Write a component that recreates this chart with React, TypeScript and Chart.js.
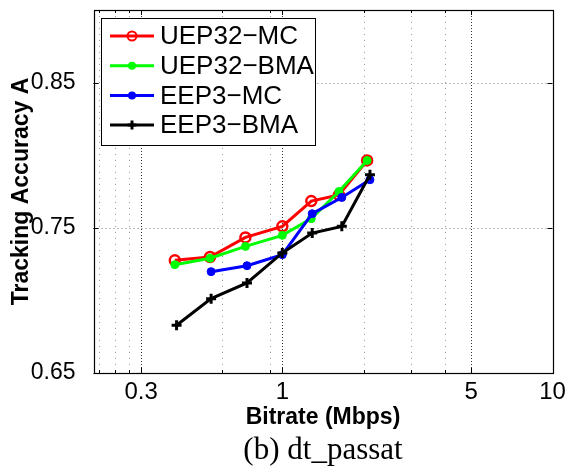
import { useEffect, useRef } from "react";
import { Chart, registerables } from "chart.js";

Chart.register(...registerables);

const seriesNames = ["UEP32\u2212MC", "UEP32\u2212BMA", "EEP3\u2212MC", "EEP3\u2212BMA"];
const seriesColors = ["#ff0000", "#00ff00", "#0000ff", "#000000"];
const uepBitrates = [0.4, 0.54, 0.73, 1.0, 1.28, 1.62, 2.06];
const eepMcBitrates = [0.545, 0.74, 1.0, 1.29, 1.66, 2.11];
const eepBmaBitrates = [0.406, 0.545, 0.74, 1.0, 1.29, 1.66, 2.11];
const uepMc = [0.7276, 0.7299, 0.7434, 0.751, 0.7684, 0.7726, 0.7964];
const uepBma = [0.7246, 0.729, 0.7372, 0.7448, 0.7563, 0.775, 0.7964];
const eepMc = [0.7198, 0.7239, 0.7315, 0.7597, 0.7709, 0.7831];
const eepBma = [0.6829, 0.7012, 0.712, 0.7327, 0.7464, 0.751, 0.7865];
const xTickValues = [0.3, 1, 5, 10];
const xMinorGrid = [0.21, 0.24, 0.27, 0.6, 0.9, 2, 3, 4];
const yTickValues = [0.65, 0.75, 0.85];

const SANS = "'Liberation Sans', Arial, Helvetica, sans-serif";
const SERIF = "'Liberation Serif', 'Times New Roman', serif";

const toPoints = (xs: number[], ys: number[]) => xs.map((x, i) => ({ x, y: ys[i] }));

const gridPlugin = {
  id: "matlabGrid",
  beforeDatasetsDraw(chart: any) {
    const { ctx, chartArea, scales } = chart;
    const { left, right, top, bottom } = chartArea;
    const x = scales.x;
    const y = scales.y;
    ctx.save();
    ctx.lineWidth = 1;
    ctx.strokeStyle = "#9a9a9a";
    ctx.setLineDash([1, 5]);
    xMinorGrid.forEach((v) => {
      const px = Math.round(x.getPixelForValue(v)) + 0.5;
      ctx.beginPath();
      ctx.moveTo(px, top);
      ctx.lineTo(px, bottom);
      ctx.stroke();
    });
    ctx.strokeStyle = "#333333";
    ctx.setLineDash([1, 2]);
    xTickValues.forEach((v) => {
      const px = Math.round(x.getPixelForValue(v)) + 0.5;
      if (px < right - 1) {
        ctx.beginPath();
        ctx.moveTo(px, top);
        ctx.lineTo(px, bottom);
        ctx.stroke();
      }
    });
    ctx.strokeStyle = "#777777";
    ctx.setLineDash([1, 3]);
    yTickValues.forEach((v) => {
      const py = Math.round(y.getPixelForValue(v)) + 0.5;
      if (py < bottom - 1) {
        ctx.beginPath();
        ctx.moveTo(left, py);
        ctx.lineTo(right, py);
        ctx.stroke();
      }
    });
    ctx.restore();
  },
  afterDraw(chart: any) {
    const { ctx, chartArea, scales } = chart;
    const { left, right, top, bottom } = chartArea;
    const x = scales.x;
    const y = scales.y;
    ctx.save();
    ctx.setLineDash([]);
    ctx.strokeStyle = "#000";
    ctx.lineWidth = 1;
    const tick = (px: number, len: number) => {
      ctx.beginPath();
      ctx.moveTo(px, bottom);
      ctx.lineTo(px, bottom - len);
      ctx.moveTo(px, top);
      ctx.lineTo(px, top + len);
      ctx.stroke();
    };
    xMinorGrid.forEach((v) => tick(Math.round(x.getPixelForValue(v)) + 0.5, 3));
    xTickValues.forEach((v) => tick(Math.round(x.getPixelForValue(v)) + 0.5, 5));
    yTickValues.forEach((v) => {
      const py = Math.round(y.getPixelForValue(v)) + 0.5;
      ctx.beginPath();
      ctx.moveTo(left, py);
      ctx.lineTo(left + 5, py);
      ctx.moveTo(right, py);
      ctx.lineTo(right - 5, py);
      ctx.stroke();
    });
    ctx.lineWidth = 1.2;
    ctx.strokeRect(Math.round(left) + 0.5, Math.round(top) + 0.5, Math.round(right - left), Math.round(bottom - top));

    // legend
    const lx = 101, ly = 18, lw = 214, lh = 127;
    ctx.fillStyle = "#fff";
    ctx.fillRect(lx, ly, lw, lh);
    ctx.lineWidth = 1;
    ctx.strokeStyle = "#000";
    ctx.strokeRect(lx + 0.5, ly + 0.5, lw, lh);
    ctx.font = `26px ${SANS}`;
    ctx.textBaseline = "middle";
    ctx.textAlign = "left";
    seriesNames.forEach((name, i) => {
      const ry = 36 + i * 29.7;
      const c = seriesColors[i];
      ctx.strokeStyle = c;
      ctx.lineWidth = 3;
      ctx.beginPath();
      ctx.moveTo(110, ry);
      ctx.lineTo(154, ry);
      ctx.stroke();
      if (i === 0) {
        ctx.lineWidth = 2;
        ctx.beginPath();
        ctx.arc(132, ry, 4.5, 0, Math.PI * 2);
        ctx.stroke();
      } else if (i === 3) {
        ctx.lineWidth = 3;
        ctx.beginPath();
        ctx.moveTo(132, ry - 4.5);
        ctx.lineTo(132, ry + 4.5);
        ctx.moveTo(127.5, ry);
        ctx.lineTo(136.5, ry);
        ctx.stroke();
      } else {
        ctx.fillStyle = c;
        ctx.beginPath();
        ctx.arc(132, ry, 4, 0, Math.PI * 2);
        ctx.fill();
      }
      ctx.fillStyle = "#000";
      ctx.fillText(name, 160, ry + 1);
    });
    ctx.restore();
  },
};

export default function App() {
  const canvasRef = useRef<HTMLCanvasElement | null>(null);

  useEffect(() => {
    document.body.style.margin = "0";
    const canvas = canvasRef.current;
    if (!canvas) return;
    const lineStyle = (i: number) => ({
      borderColor: seriesColors[i],
      borderWidth: 3,
      tension: 0,
      fill: false,
    });
    const chart = new Chart(canvas, {
      type: "line",
      data: {
        datasets: [
          {
            label: seriesNames[0],
            data: toPoints(uepBitrates, uepMc),
            ...lineStyle(0),
            pointStyle: "circle",
            pointRadius: 5,
            pointBorderWidth: 2.5,
            pointBorderColor: seriesColors[0],
            pointBackgroundColor: "rgba(255,0,0,0)",
            order: 4,
          },
          {
            label: seriesNames[1],
            data: toPoints(uepBitrates, uepBma),
            ...lineStyle(1),
            pointStyle: "circle",
            pointRadius: 4,
            pointBorderWidth: 1,
            pointBorderColor: seriesColors[1],
            pointBackgroundColor: seriesColors[1],
            order: 3,
          },
          {
            label: seriesNames[2],
            data: toPoints(eepMcBitrates, eepMc),
            ...lineStyle(2),
            pointStyle: "circle",
            pointRadius: 4,
            pointBorderWidth: 1,
            pointBorderColor: seriesColors[2],
            pointBackgroundColor: seriesColors[2],
            order: 2,
          },
          {
            label: seriesNames[3],
            data: toPoints(eepBmaBitrates, eepBma),
            ...lineStyle(3),
            pointStyle: "cross",
            pointRadius: 5,
            pointBorderWidth: 3,
            pointBorderColor: seriesColors[3],
            pointBackgroundColor: seriesColors[3],
            order: 1,
          },
        ],
      } as any,
      options: {
        animation: false,
        responsive: true,
        maintainAspectRatio: false,
        layout: { padding: { top: 10, right: 15.5, bottom: 0, left: 0 } },
        plugins: {
          legend: { display: false },
          tooltip: { enabled: false },
          title: {
            display: true,
            position: "bottom",
            fullSize: false,
            text: "(b) dt_passat",
            color: "#000",
            font: { family: SERIF, size: 31, weight: "normal" },
            padding: { top: 0, bottom: 0 },
          },
        },
        scales: {
          x: {
            type: "logarithmic",
            min: 0.2,
            max: 10,
            grid: { display: false },
            border: { display: false },
            afterBuildTicks: (s: any) => {
              s.ticks = xTickValues.map((v) => ({ value: v }));
            },
            afterFit: (s: any) => {
              s.height = 58.8;
              s.paddingLeft = 0;
              s.paddingRight = 0;
            },
            ticks: {
              autoSkip: false,
              maxRotation: 0,
              minRotation: 0,
              padding: -3,
              color: "#000",
              font: { family: SANS, size: 24 },
              callback: (v: any) => String(v),
            },
            title: {
              display: true,
              text: "Bitrate (Mbps)",
              color: "#000",
              font: { family: SANS, size: 23, weight: "bold" },
              padding: { top: 0, bottom: 0 },
            },
          },
          y: {
            type: "linear",
            min: 0.65,
            max: 0.9,
            grid: { display: false },
            border: { display: false },
            afterBuildTicks: (s: any) => {
              s.ticks = yTickValues.map((v) => ({ value: v }));
            },
            afterFit: (s: any) => {
              s.width = 93.5;
              s.paddingTop = 0;
              s.paddingBottom = 0;
            },
            ticks: {
              padding: 10,
              color: "#000",
              font: { family: SANS, size: 23 },
              callback: (v: any) => Number(v).toFixed(2),
            },
            title: {
              display: true,
              text: "Tracking Accuracy A",
              color: "#000",
              font: { family: SANS, size: 23, weight: "bold" },
              padding: { top: 8, bottom: 0 },
            },
          },
        },
      } as any,
      plugins: [gridPlugin],
    });
    return () => chart.destroy();
  }, []);

  return (
    <div style={{ position: "absolute", left: 0, top: 0, width: 568, height: 469, background: "#fff" }}>
      <canvas ref={canvasRef} />
    </div>
  );
}
